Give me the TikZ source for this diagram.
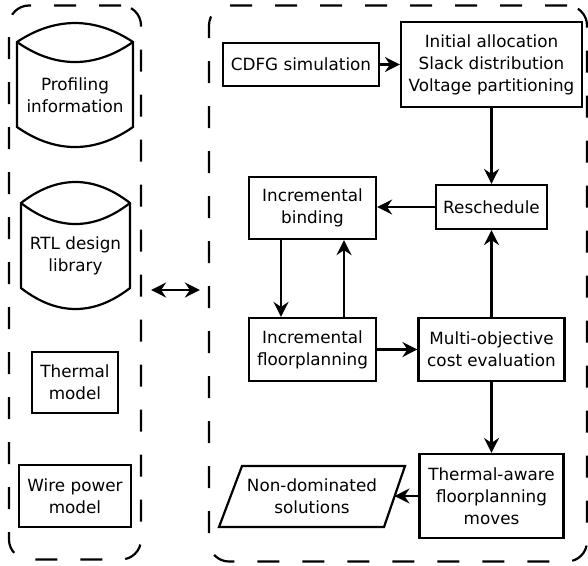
\documentclass[tikz,border=0pt]{standalone}
\usepackage{fontspec}
\setmainfont{DejaVu Sans}
\usetikzlibrary{arrows.meta}
\begin{document}
\begin{tikzpicture}[x=1pt,y=-1pt,
  every node/.style={font=\fontsize{16.8}{22}\selectfont},
  blk/.style={draw, line width=2.2pt, align=center, inner sep=2pt},
  txt/.style={align=center, inner sep=0pt},
  cyl/.style={line width=2.2pt},
  grp/.style={draw, line width=2.2pt, dash pattern=on 22pt off 23pt, rounded corners=20pt},
  tip/.tip={Stealth[length=15pt,width=15pt,inset=5pt]},
  conn/.style={line width=2.2pt, -tip},
  dconn/.style={line width=2.2pt, tip-tip}]
\useasboundingbox (0,0) rectangle (588,565);
% group boxes
\node[grp, minimum width=132pt, minimum height=554pt] (lb) at (75,282.5) {};
\node[grp, minimum width=378pt, minimum height=556pt] (rb) at (398,283.5) {};
% cylinders
\draw[cyl] (17,42) .. controls (55,16.7) and (95,16.7) .. (133,42) -- (133,127)
  .. controls (95,153.7) and (55,153.7) .. (17,127) -- cycle;
\draw[cyl] (17,42) .. controls (55,68.7) and (95,68.7) .. (133,42);
\node[txt] (prof) at (75,95) {Profiling\\information};
\draw[cyl] (21,203) .. controls (57,175) and (94,175) .. (130,203) -- (130,288)
  .. controls (94,316) and (57,316) .. (21,288) -- cycle;
\draw[cyl] (21,203) .. controls (57,231) and (94,231) .. (130,203);
\node[txt] (rtl) at (75.5,256) {RTL design\\library};
% left boxes
\node[blk, minimum width=86pt, minimum height=61pt] (therm) at (75,382.5) {Thermal\\model};
\node[blk, minimum width=112pt, minimum height=62pt] (wire) at (75,496) {Wire power\\model};
% right boxes
\node[blk, minimum width=156pt, minimum height=43pt] (cdfg) at (301,64.5) {CDFG simulation};
\node[blk, minimum width=181pt, minimum height=85pt] (init) at (491.5,64.5) {Initial allocation\\Slack distribution\\Voltage partitioning};
\node[blk, minimum width=111pt, minimum height=44pt] (resch) at (491.5,207) {Reschedule};
\node[blk, minimum width=127pt, minimum height=62pt] (bind) at (312.5,208) {Incremental\\binding};
\node[blk, minimum width=127pt, minimum height=63pt] (floor) at (312.5,349.5) {Incremental\\floorplanning};
\node[blk, minimum width=146pt, minimum height=63pt] (multi) at (491.5,349.5) {Multi-objective\\cost evaluation};
\node[blk, minimum width=144pt, minimum height=84pt] (tam) at (491.5,496) {Thermal-aware\\floorplanning\\moves};
\node[txt] (nd) at (312,496.5) {Non-dominated\\solutions};
\draw[line width=2.2pt, line join=miter] (219,527) -- (384,527) -- (405,466) -- (242,466) -- cycle;
\coordinate (ndE) at (394.5,496);
% connectors
\draw[conn] (cdfg.east) -- (init.west |- cdfg.east);
\draw[conn] (init.south) -- (resch.north);
\draw[conn] (resch.west) -- (bind.east |- resch.west);
\draw[conn] (bind.south -| 281,0) -- (floor.north -| 281,0);
\draw[conn] (floor.north -| 344,0) -- (bind.south -| 344,0);
\draw[conn] (floor.east) -- (multi.west);
\draw[conn] (multi.north) -- (resch.south);
\draw[conn] (multi.south) -- (tam.north);
\draw[conn] (tam.west) -- (ndE);
\draw[dconn] ([shift={(9,7.5)}]lb.east) -- ([shift={(-8,6.5)}]rb.west);
\end{tikzpicture}
\end{document}
